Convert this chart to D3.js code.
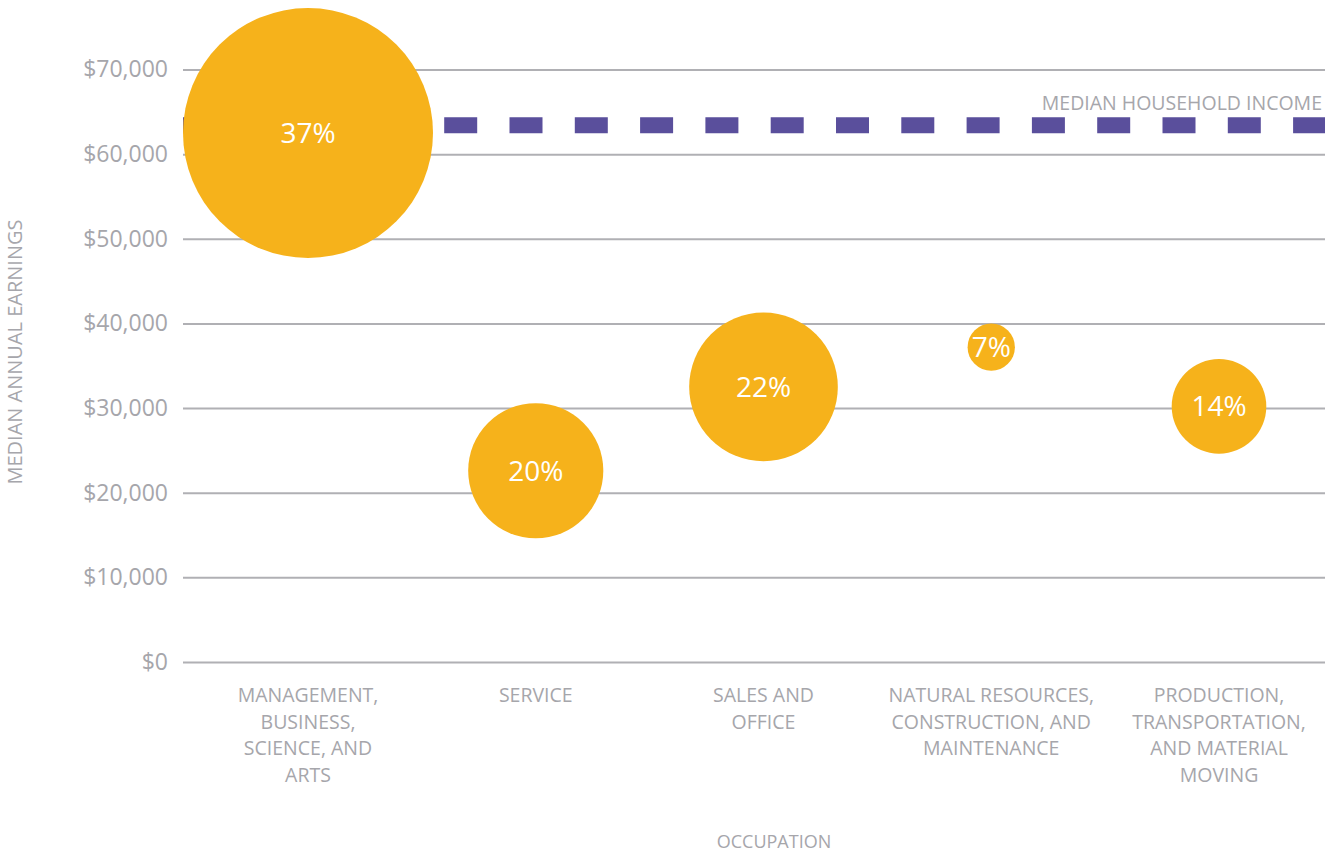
<!DOCTYPE html>
<html>
<head>
<meta charset="utf-8">
<script src="https://cdn.jsdelivr.net/npm/d3@7"></script>
<style>
  body { margin: 0; background: #fff; }
  text { font-family: "Open Sans", "Noto Sans", sans-serif; }
</style>
</head>
<body>
<div id="chart"></div>
<script>
// data
var categories = ["mgmt", "service", "sales", "natural", "production"];
var categoryLabels = [
  ["MANAGEMENT,", "BUSINESS,", "SCIENCE, AND", "ARTS"],
  ["SERVICE"],
  ["SALES AND", "OFFICE"],
  ["NATURAL RESOURCES,", "CONSTRUCTION, AND", "MAINTENANCE"],
  ["PRODUCTION,", "TRANSPORTATION,", "AND MATERIAL", "MOVING"]
];
var earnings = [62500, 22600, 32500, 37200, 30200];
var shares = [37, 20, 22, 7, 14];
var yTicks = [0, 10000, 20000, 30000, 40000, 50000, 60000, 70000];
var medianHouseholdIncome = 63400;

var W = 1331, H = 856;
var margin = ({top: 69.5, right: 6, bottom: 194, left: 183});
var textColor = "#a6a6ab";
var gridColor = "#b0b0b4";
var bubbleColor = "#f6b21b";
var lineColor = "#5a4f9c";

var svg = d3.select("#chart").append("svg")
  .attr("width", W)
  .attr("height", H)
  .attr("viewBox", [0, 0, W, H]);

var y = d3.scaleLinear()
  .domain([0, 70000])
  .range([H - margin.bottom, margin.top]);

var x = d3.scalePoint()
  .domain(categories)
  .range([308, 1219]);

var r = d3.scaleLinear()
  .domain([0, 37])
  .range([0, 125]);

// y axis: gridlines + labels
var yAxis = g => g
  .attr("transform", `translate(${margin.left},0)`)
  .call(d3.axisLeft(y)
    .tickValues(yTicks)
    .tickSize(-(W - margin.left - margin.right))
    .tickPadding(15)
    .tickFormat(d3.format("$,")))
  .call(g => g.select(".domain").remove())
  .call(g => g.selectAll(".tick line").attr("stroke", gridColor).attr("stroke-width", 2))
  .call(g => g.selectAll(".tick text")
    .attr("fill", textColor)
    .attr("font-size", 23)
    .attr("font-family", "'Open Sans', sans-serif"));

svg.append("g").call(yAxis);

// median household income dashed line
svg.append("line")
  .attr("x1", margin.left)
  .attr("x2", W - margin.right)
  .attr("y1", y(medianHouseholdIncome))
  .attr("y2", y(medianHouseholdIncome))
  .attr("stroke", lineColor)
  .attr("stroke-width", 16)
  .attr("stroke-dasharray", "33 32.3");

svg.append("text")
  .attr("x", W - 9)
  .attr("y", y(medianHouseholdIncome) - 15)
  .attr("text-anchor", "end")
  .attr("fill", textColor)
  .attr("font-size", 19.5)
  .text("MEDIAN HOUSEHOLD INCOME");

// bubbles
var bubbles = svg.append("g")
  .selectAll("g")
  .data(categories)
  .join("g")
  .attr("transform", (d, i) => `translate(${x(d)},${y(earnings[i])})`);

bubbles.append("circle")
  .attr("r", (d, i) => r(shares[i]))
  .attr("fill", bubbleColor);

bubbles.append("text")
  .attr("text-anchor", "middle")
  .attr("dy", "0.36em")
  .attr("fill", "#fff")
  .attr("font-size", 28)
  .text((d, i) => shares[i] + "%");

// category labels
var catLabels = svg.append("g")
  .selectAll("text")
  .data(categories)
  .join("text")
  .attr("text-anchor", "middle")
  .attr("fill", textColor)
  .attr("font-size", 19.5)
  .attr("transform", d => `translate(${x(d)},${H - margin.bottom + 40})`);

catLabels.selectAll("tspan")
  .data((d, i) => categoryLabels[i])
  .join("tspan")
  .attr("x", 0)
  .attr("y", (d, i) => i * 26.5)
  .text(d => d);

// axis titles
svg.append("text")
  .attr("transform", `translate(22,352) rotate(-90)`)
  .attr("text-anchor", "middle")
  .attr("fill", textColor)
  .attr("font-size", 20)
  .text("MEDIAN ANNUAL EARNINGS");

svg.append("text")
  .attr("x", 774)
  .attr("y", 848)
  .attr("text-anchor", "middle")
  .attr("fill", textColor)
  .attr("font-size", 18)
  .text("OCCUPATION");
</script>
</body>
</html>
